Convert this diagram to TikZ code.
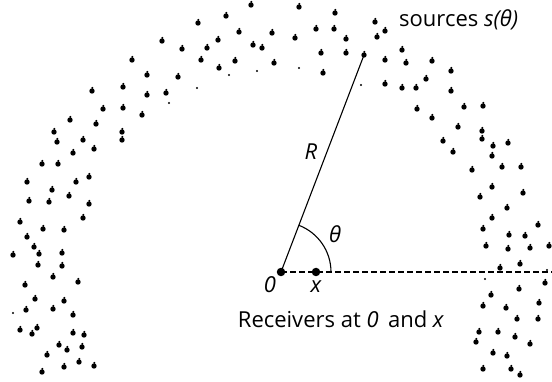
\documentclass[tikz,border=0pt]{standalone}
\usepackage{fontspec}
\setmainfont{Open Sans}
\begin{document}
\begin{tikzpicture}[x=1pt,y=-1pt,
  src/.style={fill=black},
  rcv/.style={circle,fill=black,inner sep=0pt,minimum size=8.5pt},
  lbl/.style={font=\fontsize{22}{26}\selectfont,inner sep=0pt,anchor=base},
  ilbl/.style={lbl,font=\fontsize{22}{26}\selectfont\itshape}]
\useasboundingbox (0,0) rectangle (552,382);

% scattered sources (main dot with small speck above)
\foreach \px/\py in {
 251/5,226/16,198/23,239/32,272/33,162/41,218/40,253/45,262/48,182/49,207/48,
 132/60,201/60,235/61,274/63,219/68,147/75,178/77,92/91,123/87,147/95,166/93,
 103/109,123/108,142/115,70/120,96/124,54/132,122/132,57/142,83/140,122/140,
 73/153,94/149,42/164,58/164,27/182,52/190,76/182,89/177,
 29/201,49/202,69/196,89/204,83/218,20/222,43/229,64/230,27/237,34/247,39/254,
 62/253,13/255,38/265,62/266,53/277,78/282,25/285,35/299,64/301,26/310,53/309,
 73/315,20/330,32/334,37/328,73/333,84/335,59/345,67/350,82/347,47/355,79/362,
 94/366,64/367,42/372,
 299/7,335/13,375/22,316/29,334/29,385/31,377/37,295/38,346/39,402/50,321/53,
 346/53,385/60,406/63,432/61,323/73,451/71,385/84,402/88,416/88,426/79,451/91,
 417/109,464/107,483/106,432/118,458/127,482/131,443/141,482/139,493/146,
 508/143,453/152,492/156,472/170,502/167,521/167,
 492/187,523/193,480/197,507/208,492/218,538/225,483/229,509/235,525/236,
 486/246,508/249,530/248,549/246,520/264,500/268,545/283,519/289,491/295,
 539/303,483/306,506/308,517/319,538/319,479/332,498/332,515/337,476/342,
 530/344,493/353,507/356,483/369,511/369,520/375}
 {
  \fill[src] (\px,\py) circle[radius=2.7];
  \fill[src] (\px+0.3,\py-3.1) circle[radius=1.1];
 }
% a few faint specks
\foreach \px/\py in {229/75,257/71,197/88,169/103,299/68,361/85,485/279,547/270,13/313}
 \fill[src] (\px,\py) circle[radius=1.2];

% source hit by the radius
\node[circle,fill=black,inner sep=0pt,minimum size=5.4pt] (s) at (364,55) {};
\fill (364.3,51.9) circle[radius=1.1];

% receivers
\node[rcv] (o) at (281,272) {};
\node[rcv] (rx) at (316,272) {};
\coordinate (edge) at (552,272);

\draw[line width=1.2pt,dash pattern=on 5.5pt off 3.5pt] (o.center) -- (edge);
\draw[line width=1.1pt] (o.center) -- (s.center);
\draw[line width=1.1pt] (331,272) arc[start angle=0,end angle=-69,radius=50];

% labels
\node[ilbl] (lR) at (311,160) {R};
\node[ilbl] (lth) at (335,243) {θ};
\node[ilbl] (l0) at (270,293) {0};
\node[ilbl] (lx) at (316,293) {x};
\node[lbl] (lrec) at (341,327) {Receivers at \textit{0}\, and \textit{x}};
\node[lbl,anchor=base west] (lsrc) at (399,27) {sources \textit{s(θ)}};
\end{tikzpicture}
\end{document}
